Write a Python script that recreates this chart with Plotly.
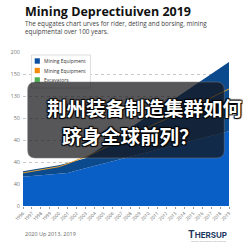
import plotly.graph_objects as go

years = [str(y) for y in range(1996, 2020)]
base_blue = [38, 39, 40, 41, 42, 43, 46, 49, 52, 55, 58, 61, 64, 67, 70, 73, 76, 79, 82, 85, 88, 91, 94, 97]
navy_total = [45, 47, 49, 51, 53, 56, 59, 62, 70, 78, 86, 94, 101, 109, 117, 125, 133, 140, 148, 156, 164, 172, 179, 187]
orange_line = [43, 45, 47, 49, 51, 55, 59, 64, 69, 75, 80, 86, 91, 97, 102, 108, 113, 119, 124, 130, 135, 141, 147, 152]
ytick_text = ['0', '40', '40', '40', '50', '130', '150', '200']
legend_names = ['Mining Equipment', 'Mining Equipment', 'Excavators']
legend_colors = ['#0b4f9e', '#f58a0c', '#4caf50']

W, H = 243, 243
L, R, T, B = 12, 232, 52, 206


def px(x):
    return (x - L) / (R - L)


def py(y):
    return (B - y) / (B - T)


fig = go.Figure()
fig.add_trace(go.Scatter(x=years, y=base_blue, fill='tozeroy', mode='lines',
                         line=dict(width=0, color='#0a5fc6'), fillcolor='#0a5fc6',
                         showlegend=False, hoverinfo='skip'))
fig.add_trace(go.Scatter(x=years, y=navy_total, fill='tonexty', mode='lines',
                         line=dict(width=0, color='#0c4a8e'), fillcolor='#0c4a8e',
                         showlegend=False, hoverinfo='skip'))
fig.add_trace(go.Scatter(x=years, y=orange_line, mode='lines',
                         line=dict(width=1, color='#e0a030'),
                         showlegend=False, hoverinfo='skip'))

n = len(ytick_text)
tickvals = [200 * i / (n - 1) for i in range(n)]

fig.update_layout(
    width=W, height=H,
    margin=dict(l=L, r=W - R, t=T, b=H - B, pad=0),
    paper_bgcolor='white', plot_bgcolor='white',
    font=dict(family='Open Sans, Noto Sans, sans-serif', color='#555'),
    xaxis=dict(type='category', range=[0, len(years) - 1], showgrid=False,
               tickangle=-45, tickfont=dict(size=4.5, color='#666'),
               ticks='outside', ticklen=2, tickcolor='#999', showline=False,
               zeroline=False, fixedrange=True),
    yaxis=dict(range=[0, 200], tickvals=tickvals, ticktext=ytick_text,
               tickfont=dict(size=5.5, color='#777'), showgrid=True,
               gridcolor='#c8c8c8', griddash='dot', gridwidth=1,
               zeroline=False, showline=False, ticklabelstandoff=2),
    showlegend=False,
)

# manual compact legend
fig.add_shape(type='rect', xref='paper', yref='paper',
              x0=px(21), x1=px(84), y0=py(55), y1=py(88),
              fillcolor='white', line=dict(color='#dddddd', width=1))
for i, (nm, c) in enumerate(zip(legend_names, legend_colors)):
    yc = 61 + i * 9.5
    fig.add_shape(type='rect', xref='paper', yref='paper',
                  x0=px(24.5), x1=px(30), y0=py(yc - 2.7), y1=py(yc + 2.7),
                  fillcolor=c, line=dict(width=0))
    fig.add_annotation(x=px(32.5), y=py(yc), xref='paper', yref='paper', xanchor='left', yanchor='middle',
                       text=nm, showarrow=False, font=dict(size=4.9, color='#333'))

# title & subtitle
fig.add_annotation(x=px(12), y=py(12), xref='paper', yref='paper', xanchor='left', yanchor='middle',
                   text='<b>Mining Deprectiuiven 2019</b>', showarrow=False,
                   font=dict(size=12.5, color='#111', family='Open Sans, sans-serif'))
fig.add_annotation(x=px(12), y=py(28), xref='paper', yref='paper', xanchor='left', yanchor='middle',
                   text='The equgates chart urves for rider, deting and borsing, mining<br>equipmental over 100 years.',
                   showarrow=False, align='left',
                   font=dict(size=6.3, color='#444', family='Open Sans, sans-serif'))

# footer
fig.add_annotation(x=px(12), y=py(234), xref='paper', yref='paper', xanchor='left', yanchor='middle',
                   text='2020 Up 2013, 2019', showarrow=False,
                   font=dict(size=5.5, color='#666'))
fig.add_annotation(x=px(232), y=py(234), xref='paper', yref='paper', xanchor='right', yanchor='middle',
                   text="<b>T<span style='font-size:8px'>HERSUP</span></b>", showarrow=False,
                   font=dict(size=10, color='#1c3a5e', family='Inter, sans-serif'))
fig.add_annotation(x=px(232), y=py(241), xref='paper', yref='paper', xanchor='right', yanchor='middle',
                   text='mining equipment data series', showarrow=False,
                   font=dict(size=2.5, color='#999'))

# banner
x0, x1, y0, y1 = px(17), px(227), py(82), py(158)
rx, ry = 8 / (R - L), 8 / (B - T)
path = (f'M {x0+rx},{y0} L {x1-rx},{y0} Q {x1},{y0} {x1},{y0-ry} '
        f'L {x1},{y1+ry} Q {x1},{y1} {x1-rx},{y1} L {x0+rx},{y1} '
        f'Q {x0},{y1} {x0},{y1+ry} L {x0},{y0-ry} Q {x0},{y0} {x0+rx},{y0} Z')
fig.add_shape(type='path', path=path, xref='paper', yref='paper',
              fillcolor='rgba(22,22,26,0.72)', line=dict(width=1, color='rgba(120,120,120,0.5)'))
shadow = '1px 1px 1px #000, -1px -1px 1px #000, 1px -1px 1px #000, -1px 1px 1px #000'
fig.add_annotation(x=px(36), y=py(107), xref='paper', yref='paper', xanchor='left', yanchor='middle',
                   text='<b>荆州装备制造集群如何</b>', showarrow=False,
                   font=dict(size=19.5, color='white', family='Noto Sans CJK SC', shadow=shadow))
fig.add_annotation(x=px(52), y=py(135), xref='paper', yref='paper', xanchor='left', yanchor='middle',
                   text='<b>跻身全球前列？</b>', showarrow=False,
                   font=dict(size=19.5, color='white', family='Noto Sans CJK SC', shadow=shadow))

fig.write_html('out.html')
